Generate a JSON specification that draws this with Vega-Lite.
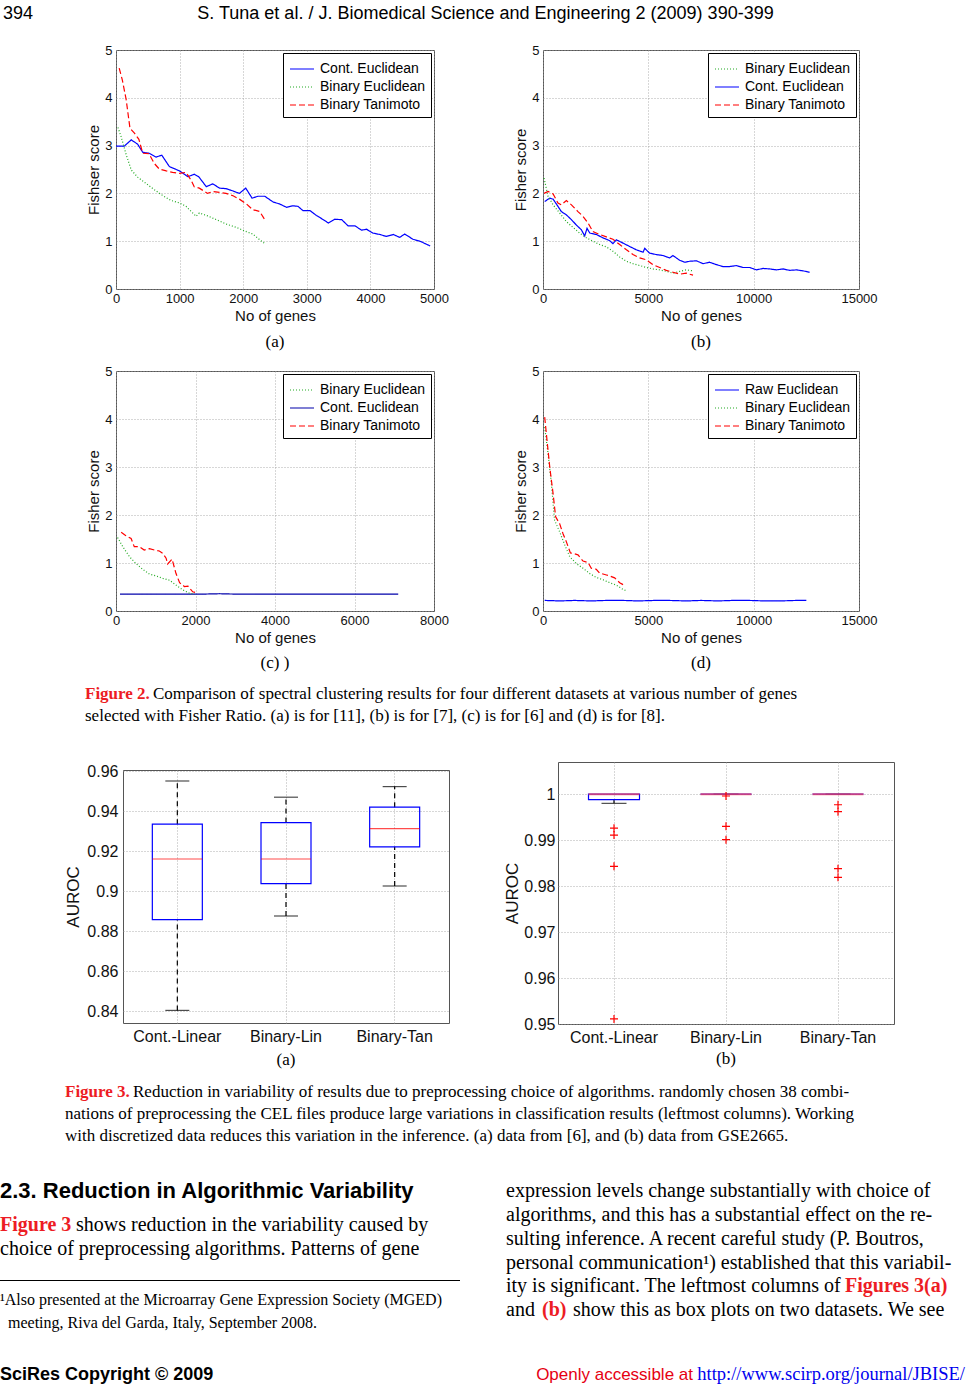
{
"$schema": "https://vega.github.io/schema/vega-lite/v6.json",
"padding": 0,
"background": "white",
"spacing": 0,
"bounds": "flush",
"resolve": {"scale": {"color": "independent", "strokeDash": "independent"}},
"data": {"values": []},
"config": {
  "view": {"stroke": null},
  "font": "Liberation Sans",
  "title": {"orient": "bottom", "anchor": "start", "frame": "group", "offset": 0, "font": "Liberation Serif", "fontSize": 17, "fontWeight": "normal", "color": "#000", "lineHeight": 22},
  "axis": {"grid": true, "gridColor": "#999", "gridDash": [1, 2], "gridWidth": 0.8, "ticks": false, "domain": false, "labelFont": "Liberation Sans", "labelFontSize": 13, "labelColor": "#111", "titleFont": "Liberation Sans", "titleFontSize": 15, "titleFontWeight": "normal", "titleColor": "#111", "labelFlush": false, "labelOverlap": false},
  "axisX": {"labelPadding": 3, "titlePadding": 3},
  "axisY": {"labelPadding": 4, "titlePadding": 3},
  "legend": {"orient": "top-right", "offset": 3, "padding": 5, "strokeColor": "#000", "fillColor": "#fff", "labelFont": "Liberation Sans", "labelFontSize": 14, "labelColor": "#000", "symbolType": "M-1.2,0H1.2", "symbolSize": 400, "symbolStrokeWidth": 1.2, "symbolOffset": 3, "rowPadding": 0, "labelOffset": 7}
},
"vconcat": [
  {"hconcat": [
    {"width": 3, "height": 1, "mark": "point"},
    {"width": 1, "height": 1, "mark": "point", "title": {"text": "394", "font": "Liberation Sans", "fontSize": 18}},
    {"width": 963, "height": 1, "mark": "point", "title": {"text": "S. Tuna et al. / J. Biomedical Science and Engineering 2 (2009) 390-399", "anchor": "middle", "font": "Liberation Sans", "fontSize": 18}}
  ], "spacing": 0, "bounds": "flush"},
  {"width": 1, "height": 50, "mark": "point"},
  {"hconcat": [
    {"width": 116, "height": 1, "mark": "point"},
    {"width": 318, "height": 239, "view": {"stroke": "#555"},
     "title": {"text": "(a)", "anchor": "middle", "offset": 11},
     "data": {"values": [
      {"series":"Cont. Euclidean","genes":0,"score":2.99},{"series":"Cont. Euclidean","genes":130,"score":2.99},{"series":"Cont. Euclidean","genes":240,"score":3.12},{"series":"Cont. Euclidean","genes":340,"score":3.03},{"series":"Cont. Euclidean","genes":420,"score":2.86},{"series":"Cont. Euclidean","genes":520,"score":2.84},{"series":"Cont. Euclidean","genes":630,"score":2.76},{"series":"Cont. Euclidean","genes":720,"score":2.8},{"series":"Cont. Euclidean","genes":840,"score":2.56},{"series":"Cont. Euclidean","genes":1000,"score":2.47},{"series":"Cont. Euclidean","genes":1130,"score":2.35},{"series":"Cont. Euclidean","genes":1230,"score":2.4},{"series":"Cont. Euclidean","genes":1300,"score":2.35},{"series":"Cont. Euclidean","genes":1420,"score":2.14},{"series":"Cont. Euclidean","genes":1520,"score":2.2},{"series":"Cont. Euclidean","genes":1630,"score":2.11},{"series":"Cont. Euclidean","genes":1730,"score":2.1},{"series":"Cont. Euclidean","genes":1840,"score":2.05},{"series":"Cont. Euclidean","genes":1940,"score":2.0},{"series":"Cont. Euclidean","genes":2040,"score":2.11},{"series":"Cont. Euclidean","genes":2140,"score":1.9},{"series":"Cont. Euclidean","genes":2230,"score":1.94},{"series":"Cont. Euclidean","genes":2340,"score":1.94},{"series":"Cont. Euclidean","genes":2470,"score":1.82},{"series":"Cont. Euclidean","genes":2570,"score":1.78},{"series":"Cont. Euclidean","genes":2680,"score":1.71},{"series":"Cont. Euclidean","genes":2780,"score":1.74},{"series":"Cont. Euclidean","genes":2860,"score":1.73},{"series":"Cont. Euclidean","genes":2940,"score":1.64},{"series":"Cont. Euclidean","genes":3050,"score":1.64},{"series":"Cont. Euclidean","genes":3150,"score":1.54},{"series":"Cont. Euclidean","genes":3260,"score":1.45},{"series":"Cont. Euclidean","genes":3340,"score":1.38},{"series":"Cont. Euclidean","genes":3440,"score":1.46},{"series":"Cont. Euclidean","genes":3550,"score":1.45},{"series":"Cont. Euclidean","genes":3650,"score":1.32},{"series":"Cont. Euclidean","genes":3760,"score":1.32},{"series":"Cont. Euclidean","genes":3860,"score":1.23},{"series":"Cont. Euclidean","genes":3940,"score":1.25},{"series":"Cont. Euclidean","genes":4040,"score":1.17},{"series":"Cont. Euclidean","genes":4150,"score":1.14},{"series":"Cont. Euclidean","genes":4250,"score":1.1},{"series":"Cont. Euclidean","genes":4360,"score":1.14},{"series":"Cont. Euclidean","genes":4460,"score":1.08},{"series":"Cont. Euclidean","genes":4540,"score":1.15},{"series":"Cont. Euclidean","genes":4670,"score":1.04},{"series":"Cont. Euclidean","genes":4780,"score":1.0},{"series":"Cont. Euclidean","genes":4940,"score":0.9},
      {"series":"Binary Euclidean","genes":30,"score":3.38},{"series":"Binary Euclidean","genes":80,"score":3.19},{"series":"Binary Euclidean","genes":160,"score":2.81},{"series":"Binary Euclidean","genes":240,"score":2.49},{"series":"Binary Euclidean","genes":340,"score":2.34},{"series":"Binary Euclidean","genes":470,"score":2.21},{"series":"Binary Euclidean","genes":600,"score":2.08},{"series":"Binary Euclidean","genes":740,"score":1.95},{"series":"Binary Euclidean","genes":870,"score":1.85},{"series":"Binary Euclidean","genes":1000,"score":1.8},{"series":"Binary Euclidean","genes":1100,"score":1.73},{"series":"Binary Euclidean","genes":1260,"score":1.52},{"series":"Binary Euclidean","genes":1310,"score":1.59},{"series":"Binary Euclidean","genes":1440,"score":1.53},{"series":"Binary Euclidean","genes":1580,"score":1.45},{"series":"Binary Euclidean","genes":1730,"score":1.36},{"series":"Binary Euclidean","genes":1890,"score":1.29},{"series":"Binary Euclidean","genes":2050,"score":1.2},{"series":"Binary Euclidean","genes":2150,"score":1.15},{"series":"Binary Euclidean","genes":2260,"score":1.03},{"series":"Binary Euclidean","genes":2340,"score":0.95},
      {"series":"Binary Tanimoto","genes":50,"score":4.62},{"series":"Binary Tanimoto","genes":100,"score":4.37},{"series":"Binary Tanimoto","genes":160,"score":3.96},{"series":"Binary Tanimoto","genes":220,"score":3.36},{"series":"Binary Tanimoto","genes":290,"score":3.26},{"series":"Binary Tanimoto","genes":360,"score":3.13},{"series":"Binary Tanimoto","genes":420,"score":2.84},{"series":"Binary Tanimoto","genes":520,"score":2.83},{"series":"Binary Tanimoto","genes":600,"score":2.63},{"series":"Binary Tanimoto","genes":680,"score":2.51},{"series":"Binary Tanimoto","genes":790,"score":2.47},{"series":"Binary Tanimoto","genes":890,"score":2.44},{"series":"Binary Tanimoto","genes":1000,"score":2.42},{"series":"Binary Tanimoto","genes":1100,"score":2.44},{"series":"Binary Tanimoto","genes":1180,"score":2.28},{"series":"Binary Tanimoto","genes":1230,"score":2.14},{"series":"Binary Tanimoto","genes":1310,"score":2.11},{"series":"Binary Tanimoto","genes":1440,"score":2.0},{"series":"Binary Tanimoto","genes":1520,"score":2.04},{"series":"Binary Tanimoto","genes":1630,"score":2.02},{"series":"Binary Tanimoto","genes":1730,"score":2.0},{"series":"Binary Tanimoto","genes":1840,"score":1.95},{"series":"Binary Tanimoto","genes":1940,"score":1.88},{"series":"Binary Tanimoto","genes":2050,"score":1.78},{"series":"Binary Tanimoto","genes":2150,"score":1.66},{"series":"Binary Tanimoto","genes":2260,"score":1.62},{"series":"Binary Tanimoto","genes":2340,"score":1.45}
     ]},
     "mark": {"type": "line", "strokeWidth": 1.2},
     "encoding": {
      "x": {"field": "genes", "type": "quantitative", "scale": {"domain": [0, 5000], "nice": false}, "axis": {"values": [0, 1000, 2000, 3000, 4000, 5000], "title": "No of genes", "format": "d"}},
      "y": {"field": "score", "type": "quantitative", "scale": {"domain": [0, 5], "nice": false}, "axis": {"values": [0, 1, 2, 3, 4, 5], "title": "Fishser score"}},
      "color": {"field": "series", "type": "nominal", "scale": {"domain": ["Cont. Euclidean", "Binary Euclidean", "Binary Tanimoto"], "range": ["#0000ff", "#22aa22", "#ff0000"]}, "legend": {"title": null}},
      "strokeDash": {"field": "series", "type": "nominal", "scale": {"domain": ["Cont. Euclidean", "Binary Euclidean", "Binary Tanimoto"], "range": [[1, 0], [1, 2], [6, 3]]}, "legend": {"title": null}}
     }},
    {"width": 109, "height": 1, "mark": "point"},
    {"width": 316, "height": 239, "view": {"stroke": "#555"},
     "title": {"text": "(b)", "anchor": "middle", "offset": 11},
     "data": {"values": [
      {"series":"Cont. Euclidean","genes":80,"score":1.83},{"series":"Cont. Euclidean","genes":320,"score":1.9},{"series":"Cont. Euclidean","genes":480,"score":1.88},{"series":"Cont. Euclidean","genes":710,"score":1.73},{"series":"Cont. Euclidean","genes":870,"score":1.62},{"series":"Cont. Euclidean","genes":1110,"score":1.55},{"series":"Cont. Euclidean","genes":1350,"score":1.45},{"series":"Cont. Euclidean","genes":1580,"score":1.34},{"series":"Cont. Euclidean","genes":1820,"score":1.24},{"series":"Cont. Euclidean","genes":1980,"score":1.11},{"series":"Cont. Euclidean","genes":2090,"score":1.27},{"series":"Cont. Euclidean","genes":2220,"score":1.17},{"series":"Cont. Euclidean","genes":2530,"score":1.14},{"series":"Cont. Euclidean","genes":2850,"score":1.07},{"series":"Cont. Euclidean","genes":3170,"score":1.01},{"series":"Cont. Euclidean","genes":3320,"score":0.95},{"series":"Cont. Euclidean","genes":3480,"score":1.03},{"series":"Cont. Euclidean","genes":3800,"score":0.96},{"series":"Cont. Euclidean","genes":4110,"score":0.89},{"series":"Cont. Euclidean","genes":4430,"score":0.82},{"series":"Cont. Euclidean","genes":4750,"score":0.77},{"series":"Cont. Euclidean","genes":4830,"score":0.85},{"series":"Cont. Euclidean","genes":5060,"score":0.75},{"series":"Cont. Euclidean","genes":5380,"score":0.72},{"series":"Cont. Euclidean","genes":5700,"score":0.7},{"series":"Cont. Euclidean","genes":6010,"score":0.65},{"series":"Cont. Euclidean","genes":6170,"score":0.7},{"series":"Cont. Euclidean","genes":6490,"score":0.6},{"series":"Cont. Euclidean","genes":6730,"score":0.56},{"series":"Cont. Euclidean","genes":6960,"score":0.58},{"series":"Cont. Euclidean","genes":7280,"score":0.59},{"series":"Cont. Euclidean","genes":7600,"score":0.53},{"series":"Cont. Euclidean","genes":7910,"score":0.56},{"series":"Cont. Euclidean","genes":8230,"score":0.51},{"series":"Cont. Euclidean","genes":8540,"score":0.47},{"series":"Cont. Euclidean","genes":8860,"score":0.47},{"series":"Cont. Euclidean","genes":9180,"score":0.49},{"series":"Cont. Euclidean","genes":9490,"score":0.45},{"series":"Cont. Euclidean","genes":9810,"score":0.45},{"series":"Cont. Euclidean","genes":10130,"score":0.4},{"series":"Cont. Euclidean","genes":10440,"score":0.43},{"series":"Cont. Euclidean","genes":10760,"score":0.42},{"series":"Cont. Euclidean","genes":11080,"score":0.4},{"series":"Cont. Euclidean","genes":11390,"score":0.42},{"series":"Cont. Euclidean","genes":11710,"score":0.39},{"series":"Cont. Euclidean","genes":12030,"score":0.4},{"series":"Cont. Euclidean","genes":12340,"score":0.38},{"series":"Cont. Euclidean","genes":12660,"score":0.35},
      {"series":"Binary Euclidean","genes":50,"score":2.32},{"series":"Binary Euclidean","genes":240,"score":1.94},{"series":"Binary Euclidean","genes":480,"score":1.76},{"series":"Binary Euclidean","genes":790,"score":1.59},{"series":"Binary Euclidean","genes":1110,"score":1.41},{"series":"Binary Euclidean","genes":1420,"score":1.29},{"series":"Binary Euclidean","genes":1740,"score":1.17},{"series":"Binary Euclidean","genes":2060,"score":1.07},{"series":"Binary Euclidean","genes":2370,"score":1.0},{"series":"Binary Euclidean","genes":2690,"score":0.93},{"series":"Binary Euclidean","genes":3010,"score":0.88},{"series":"Binary Euclidean","genes":3320,"score":0.79},{"series":"Binary Euclidean","genes":3640,"score":0.67},{"series":"Binary Euclidean","genes":3960,"score":0.58},{"series":"Binary Euclidean","genes":4270,"score":0.53},{"series":"Binary Euclidean","genes":4590,"score":0.49},{"series":"Binary Euclidean","genes":4910,"score":0.45},{"series":"Binary Euclidean","genes":5220,"score":0.42},{"series":"Binary Euclidean","genes":5540,"score":0.4},{"series":"Binary Euclidean","genes":5850,"score":0.37},{"series":"Binary Euclidean","genes":6170,"score":0.33},{"series":"Binary Euclidean","genes":6490,"score":0.37},{"series":"Binary Euclidean","genes":6800,"score":0.4},{"series":"Binary Euclidean","genes":7120,"score":0.38},
      {"series":"Binary Tanimoto","genes":50,"score":2.0},{"series":"Binary Tanimoto","genes":240,"score":2.04},{"series":"Binary Tanimoto","genes":480,"score":1.99},{"series":"Binary Tanimoto","genes":710,"score":1.8},{"series":"Binary Tanimoto","genes":870,"score":1.76},{"series":"Binary Tanimoto","genes":1110,"score":1.85},{"series":"Binary Tanimoto","genes":1350,"score":1.76},{"series":"Binary Tanimoto","genes":1660,"score":1.62},{"series":"Binary Tanimoto","genes":1900,"score":1.52},{"series":"Binary Tanimoto","genes":2140,"score":1.38},{"series":"Binary Tanimoto","genes":2370,"score":1.2},{"series":"Binary Tanimoto","genes":2690,"score":1.14},{"series":"Binary Tanimoto","genes":3010,"score":1.09},{"series":"Binary Tanimoto","genes":3320,"score":1.04},{"series":"Binary Tanimoto","genes":3640,"score":0.93},{"series":"Binary Tanimoto","genes":3960,"score":0.82},{"series":"Binary Tanimoto","genes":4270,"score":0.72},{"series":"Binary Tanimoto","genes":4590,"score":0.65},{"series":"Binary Tanimoto","genes":4910,"score":0.61},{"series":"Binary Tanimoto","genes":5220,"score":0.51},{"series":"Binary Tanimoto","genes":5540,"score":0.45},{"series":"Binary Tanimoto","genes":5850,"score":0.39},{"series":"Binary Tanimoto","genes":6170,"score":0.35},{"series":"Binary Tanimoto","genes":6490,"score":0.31},{"series":"Binary Tanimoto","genes":6800,"score":0.33},{"series":"Binary Tanimoto","genes":7120,"score":0.29}
     ]},
     "mark": {"type": "line", "strokeWidth": 1.2},
     "encoding": {
      "x": {"field": "genes", "type": "quantitative", "scale": {"domain": [0, 15000], "nice": false}, "axis": {"values": [0, 5000, 10000, 15000], "title": "No of genes", "format": "d"}},
      "y": {"field": "score", "type": "quantitative", "scale": {"domain": [0, 5], "nice": false}, "axis": {"values": [0, 1, 2, 3, 4, 5], "title": "Fisher score"}},
      "color": {"field": "series", "type": "nominal", "scale": {"domain": ["Binary Euclidean", "Cont. Euclidean", "Binary Tanimoto"], "range": ["#22aa22", "#0000ff", "#ff0000"]}, "legend": {"title": null}},
      "strokeDash": {"field": "series", "type": "nominal", "scale": {"domain": ["Binary Euclidean", "Cont. Euclidean", "Binary Tanimoto"], "range": [[1, 2], [1, 0], [6, 3]]}, "legend": {"title": null}}
     }}
  ], "spacing": 0, "bounds": "flush", "resolve": {"scale": {"color": "independent", "strokeDash": "independent"}}},
  {"width": 1, "height": 321, "mark": "point"},
  {"hconcat": [
    {"width": 116, "height": 1, "mark": "point"},
    {"width": 318, "height": 240, "view": {"stroke": "#555"},
     "title": {"text": "(c) )", "anchor": "middle", "offset": 10},
     "data": {"values": [
      {"series":"Cont. Euclidean","genes":100,"score":0.35},{"series":"Cont. Euclidean","genes":600,"score":0.35},{"series":"Cont. Euclidean","genes":1100,"score":0.35},{"series":"Cont. Euclidean","genes":1600,"score":0.35},{"series":"Cont. Euclidean","genes":2100,"score":0.35},{"series":"Cont. Euclidean","genes":2600,"score":0.36},{"series":"Cont. Euclidean","genes":3100,"score":0.35},{"series":"Cont. Euclidean","genes":3600,"score":0.35},{"series":"Cont. Euclidean","genes":4100,"score":0.35},{"series":"Cont. Euclidean","genes":4600,"score":0.35},{"series":"Cont. Euclidean","genes":5100,"score":0.35},{"series":"Cont. Euclidean","genes":5600,"score":0.35},{"series":"Cont. Euclidean","genes":6100,"score":0.35},{"series":"Cont. Euclidean","genes":6600,"score":0.35},{"series":"Cont. Euclidean","genes":7100,"score":0.35},
      {"series":"Binary Euclidean","genes":40,"score":1.53},{"series":"Binary Euclidean","genes":170,"score":1.34},{"series":"Binary Euclidean","genes":340,"score":1.13},{"series":"Binary Euclidean","genes":500,"score":0.99},{"series":"Binary Euclidean","genes":670,"score":0.87},{"series":"Binary Euclidean","genes":840,"score":0.77},{"series":"Binary Euclidean","genes":1010,"score":0.73},{"series":"Binary Euclidean","genes":1180,"score":0.68},{"series":"Binary Euclidean","genes":1350,"score":0.64},{"series":"Binary Euclidean","genes":1510,"score":0.54},{"series":"Binary Euclidean","genes":1680,"score":0.44},{"series":"Binary Euclidean","genes":1850,"score":0.37},{"series":"Binary Euclidean","genes":1980,"score":0.35},
      {"series":"Binary Tanimoto","genes":130,"score":1.64},{"series":"Binary Tanimoto","genes":250,"score":1.57},{"series":"Binary Tanimoto","genes":380,"score":1.51},{"series":"Binary Tanimoto","genes":460,"score":1.34},{"series":"Binary Tanimoto","genes":590,"score":1.34},{"series":"Binary Tanimoto","genes":710,"score":1.27},{"series":"Binary Tanimoto","genes":840,"score":1.3},{"series":"Binary Tanimoto","genes":970,"score":1.27},{"series":"Binary Tanimoto","genes":1090,"score":1.25},{"series":"Binary Tanimoto","genes":1180,"score":1.2},{"series":"Binary Tanimoto","genes":1260,"score":1.1},{"series":"Binary Tanimoto","genes":1300,"score":0.98},{"series":"Binary Tanimoto","genes":1410,"score":1.08},{"series":"Binary Tanimoto","genes":1510,"score":0.78},{"series":"Binary Tanimoto","genes":1600,"score":0.59},{"series":"Binary Tanimoto","genes":1720,"score":0.51},{"series":"Binary Tanimoto","genes":1810,"score":0.52},{"series":"Binary Tanimoto","genes":1930,"score":0.4},{"series":"Binary Tanimoto","genes":2060,"score":0.37}
     ]},
     "mark": {"type": "line", "strokeWidth": 1.2},
     "encoding": {
      "x": {"field": "genes", "type": "quantitative", "scale": {"domain": [0, 8000], "nice": false}, "axis": {"values": [0, 2000, 4000, 6000, 8000], "title": "No of genes", "format": "d"}},
      "y": {"field": "score", "type": "quantitative", "scale": {"domain": [0, 5], "nice": false}, "axis": {"values": [0, 1, 2, 3, 4, 5], "title": "Fisher score"}},
      "color": {"field": "series", "type": "nominal", "scale": {"domain": ["Binary Euclidean", "Cont. Euclidean", "Binary Tanimoto"], "range": ["#22aa22", "#0000aa", "#ff0000"]}, "legend": {"title": null}},
      "strokeDash": {"field": "series", "type": "nominal", "scale": {"domain": ["Binary Euclidean", "Cont. Euclidean", "Binary Tanimoto"], "range": [[1, 2], [1, 0], [6, 3]]}, "legend": {"title": null}}
     }},
    {"width": 109, "height": 1, "mark": "point"},
    {"width": 316, "height": 240, "view": {"stroke": "#555"},
     "title": {"text": "(d)", "anchor": "middle", "offset": 10},
     "data": {"values": [
      {"series":"Raw Euclidean","genes":80,"score":0.22},{"series":"Raw Euclidean","genes":800,"score":0.21},{"series":"Raw Euclidean","genes":1500,"score":0.22},{"series":"Raw Euclidean","genes":2300,"score":0.21},{"series":"Raw Euclidean","genes":3000,"score":0.22},{"series":"Raw Euclidean","genes":3800,"score":0.22},{"series":"Raw Euclidean","genes":4500,"score":0.21},{"series":"Raw Euclidean","genes":5300,"score":0.22},{"series":"Raw Euclidean","genes":6000,"score":0.22},{"series":"Raw Euclidean","genes":6800,"score":0.21},{"series":"Raw Euclidean","genes":7500,"score":0.22},{"series":"Raw Euclidean","genes":8300,"score":0.21},{"series":"Raw Euclidean","genes":9000,"score":0.22},{"series":"Raw Euclidean","genes":9800,"score":0.22},{"series":"Raw Euclidean","genes":10500,"score":0.21},{"series":"Raw Euclidean","genes":11300,"score":0.21},{"series":"Raw Euclidean","genes":12000,"score":0.22},{"series":"Raw Euclidean","genes":12500,"score":0.22},
      {"series":"Binary Euclidean","genes":80,"score":3.83},{"series":"Binary Euclidean","genes":240,"score":3.28},{"series":"Binary Euclidean","genes":400,"score":2.65},{"series":"Binary Euclidean","genes":550,"score":1.89},{"series":"Binary Euclidean","genes":790,"score":1.65},{"series":"Binary Euclidean","genes":1030,"score":1.38},{"series":"Binary Euclidean","genes":1270,"score":1.13},{"series":"Binary Euclidean","genes":1580,"score":0.99},{"series":"Binary Euclidean","genes":1900,"score":0.89},{"series":"Binary Euclidean","genes":2220,"score":0.78},{"series":"Binary Euclidean","genes":2530,"score":0.7},{"series":"Binary Euclidean","genes":2850,"score":0.65},{"series":"Binary Euclidean","genes":3170,"score":0.59},{"series":"Binary Euclidean","genes":3480,"score":0.54},{"series":"Binary Euclidean","genes":3800,"score":0.45},{"series":"Binary Euclidean","genes":3960,"score":0.42},
      {"series":"Binary Tanimoto","genes":80,"score":4.04},{"series":"Binary Tanimoto","genes":160,"score":3.69},{"series":"Binary Tanimoto","genes":320,"score":3.0},{"series":"Binary Tanimoto","genes":480,"score":2.44},{"series":"Binary Tanimoto","genes":600,"score":1.96},{"series":"Binary Tanimoto","genes":790,"score":1.82},{"series":"Binary Tanimoto","genes":950,"score":1.61},{"series":"Binary Tanimoto","genes":1110,"score":1.44},{"series":"Binary Tanimoto","genes":1300,"score":1.21},{"series":"Binary Tanimoto","genes":1500,"score":1.19},{"series":"Binary Tanimoto","genes":1660,"score":1.17},{"series":"Binary Tanimoto","genes":1900,"score":1.04},{"series":"Binary Tanimoto","genes":2140,"score":1.01},{"series":"Binary Tanimoto","genes":2290,"score":0.89},{"series":"Binary Tanimoto","genes":2530,"score":0.87},{"series":"Binary Tanimoto","genes":2690,"score":0.79},{"series":"Binary Tanimoto","genes":3010,"score":0.75},{"series":"Binary Tanimoto","genes":3170,"score":0.73},{"series":"Binary Tanimoto","genes":3400,"score":0.69},{"series":"Binary Tanimoto","genes":3640,"score":0.59},{"series":"Binary Tanimoto","genes":3880,"score":0.53}
     ]},
     "mark": {"type": "line", "strokeWidth": 1.2},
     "encoding": {
      "x": {"field": "genes", "type": "quantitative", "scale": {"domain": [0, 15000], "nice": false}, "axis": {"values": [0, 5000, 10000, 15000], "title": "No of genes", "format": "d"}},
      "y": {"field": "score", "type": "quantitative", "scale": {"domain": [0, 5], "nice": false}, "axis": {"values": [0, 1, 2, 3, 4, 5], "title": "Fisher score"}},
      "color": {"field": "series", "type": "nominal", "scale": {"domain": ["Raw Euclidean", "Binary Euclidean", "Binary Tanimoto"], "range": ["#0000ff", "#22aa22", "#ff0000"]}, "legend": {"title": null}},
      "strokeDash": {"field": "series", "type": "nominal", "scale": {"domain": ["Raw Euclidean", "Binary Euclidean", "Binary Tanimoto"], "range": [[1, 0], [1, 2], [6, 3]]}, "legend": {"title": null}}
     }}
  ], "spacing": 0, "bounds": "flush", "resolve": {"scale": {"color": "independent", "strokeDash": "independent"}}},
  {"width": 1, "height": 310, "mark": "point"},
  {"hconcat": [
    {"width": 85, "height": 1, "mark": "point"},
    {"width": 68, "height": 1, "mark": "point", "title": {"text": "Figure 2.", "color": "#ed1c24", "fontWeight": "bold"}},
    {"width": 727, "height": 1, "mark": "point", "title": {"text": "Comparison of spectral clustering results for four different datasets at various number of genes"}}
  ], "spacing": 0, "bounds": "flush"},
  {"width": 1, "height": 22, "mark": "point"},
  {"hconcat": [
    {"width": 85, "height": 1, "mark": "point"},
    {"width": 795, "height": 1, "mark": "point", "title": {"text": "selected with Fisher Ratio. (a) is for [11], (b) is for [7], (c) is for [6] and (d) is for [8]."}}
  ], "spacing": 0, "bounds": "flush"},
  {"width": 1, "height": 59, "mark": "point"},
  {"hconcat": [
    {"width": 123, "height": 1, "mark": "point"},
    {"vconcat": [
      {"width": 326, "height": 8, "mark": "point"},
      {"width": 326, "height": 253, "view": {"stroke": "#555"},
       "title": {"text": "(a)", "anchor": "middle", "offset": 8},
       "data": {"values": [
        {"method": "Cont.-Linear", "min": 0.8403, "q1": 0.8857, "median": 0.916, "q3": 0.9334, "max": 0.955},
        {"method": "Binary-Lin", "min": 0.8875, "q1": 0.9037, "median": 0.916, "q3": 0.9342, "max": 0.9469},
        {"method": "Binary-Tan", "min": 0.9025, "q1": 0.9221, "median": 0.9312, "q3": 0.9419, "max": 0.9522}
       ]},
       "encoding": {"x": {"field": "method", "type": "nominal", "scale": {"domain": ["Cont.-Linear", "Binary-Lin", "Binary-Tan"], "paddingInner": 0, "paddingOuter": 0}, "axis": {"title": null, "labelAngle": 0, "grid": true, "bandPosition": 0.5, "labelFontSize": 16, "labelPadding": 5}}},
       "layer": [
        {"mark": {"type": "rule", "strokeDash": [5, 4], "color": "#000", "strokeWidth": 1.2}, "encoding": {"y": {"field": "min", "type": "quantitative", "title": "AUROC", "scale": {"domain": [0.834, 0.9605], "nice": false, "zero": false}, "axis": {"values": [0.84, 0.86, 0.88, 0.9, 0.92, 0.94, 0.96], "format": ".2~f", "labelFontSize": 16, "labelPadding": 5, "titleFontSize": 17, "titlePadding": 4}}, "y2": {"field": "q1"}}},
        {"mark": {"type": "rule", "strokeDash": [5, 4], "color": "#000", "strokeWidth": 1.2}, "encoding": {"y": {"field": "q3", "type": "quantitative", "title": "AUROC"}, "y2": {"field": "max"}}},
        {"mark": {"type": "tick", "color": "#000", "size": 24, "thickness": 1.2}, "encoding": {"y": {"field": "min", "type": "quantitative", "title": "AUROC"}}},
        {"mark": {"type": "tick", "color": "#000", "size": 24, "thickness": 1.2}, "encoding": {"y": {"field": "max", "type": "quantitative", "title": "AUROC"}}},
        {"mark": {"type": "bar", "width": 50, "fillOpacity": 0, "stroke": "#0000ff", "strokeWidth": 1.2}, "encoding": {"y": {"field": "q1", "type": "quantitative", "title": "AUROC"}, "y2": {"field": "q3"}}},
        {"mark": {"type": "tick", "color": "#ff0000", "size": 50, "thickness": 1.2}, "encoding": {"y": {"field": "median", "type": "quantitative", "title": "AUROC"}}}
       ]}
    ], "spacing": 0, "bounds": "flush"},
    {"width": 435, "height": 1, "mark": "point"},
    {"width": 336, "height": 262, "view": {"stroke": "#555"},
     "title": {"text": "(b)", "anchor": "middle", "offset": 6},
     "data": {"values": [
      {"method": "Cont.-Linear", "min": 0.998, "q1": 0.9988, "median": 1, "q3": 1, "max": 1},
      {"method": "Binary-Lin", "min": 1, "q1": 1, "median": 1, "q3": 1, "max": 1},
      {"method": "Binary-Tan", "min": 1, "q1": 1, "median": 1, "q3": 1, "max": 1}
     ]},
     "encoding": {"x": {"field": "method", "type": "nominal", "scale": {"domain": ["Cont.-Linear", "Binary-Lin", "Binary-Tan"], "paddingInner": 0, "paddingOuter": 0}, "axis": {"title": null, "labelAngle": 0, "grid": true, "bandPosition": 0.5, "labelFontSize": 16, "labelPadding": 5}}},
     "layer": [
      {"mark": {"type": "rule", "strokeDash": [5, 4], "color": "#000", "strokeWidth": 1.2}, "encoding": {"y": {"field": "min", "type": "quantitative", "title": "AUROC", "scale": {"domain": [0.95, 1.007], "nice": false, "zero": false}, "axis": {"values": [0.95, 0.96, 0.97, 0.98, 0.99, 1], "format": ".2~f", "labelFontSize": 16, "labelPadding": 3, "titleFontSize": 17, "titlePadding": 2}}, "y2": {"field": "q1"}}},
      {"mark": {"type": "tick", "color": "#000", "size": 25, "thickness": 1.2}, "encoding": {"y": {"field": "min", "type": "quantitative", "title": "AUROC"}}},
      {"mark": {"type": "bar", "width": 51, "fillOpacity": 0, "stroke": "#0000ff", "strokeWidth": 1.2}, "encoding": {"y": {"field": "q1", "type": "quantitative", "title": "AUROC"}, "y2": {"field": "q3"}}},
      {"mark": {"type": "tick", "color": "#ff4455", "size": 51, "thickness": 2}, "encoding": {"y": {"field": "median", "type": "quantitative", "title": "AUROC"}}},
      {"data": {"values": [
        {"method": "Cont.-Linear", "value": 0.9926}, {"method": "Cont.-Linear", "value": 0.9911}, {"method": "Cont.-Linear", "value": 0.9843}, {"method": "Cont.-Linear", "value": 0.9511},
        {"method": "Binary-Lin", "value": 0.9996}, {"method": "Binary-Lin", "value": 0.993}, {"method": "Binary-Lin", "value": 0.9901},
        {"method": "Binary-Tan", "value": 0.9977}, {"method": "Binary-Tan", "value": 0.9962}, {"method": "Binary-Tan", "value": 0.9838}, {"method": "Binary-Tan", "value": 0.9819}
       ]},
       "mark": {"type": "point", "shape": "M-1,0H1M0,-1V1", "size": 64, "filled": false, "color": "#ff0000", "strokeWidth": 1.2, "opacity": 1},
       "encoding": {"y": {"field": "value", "type": "quantitative", "title": "AUROC"}}}
     ]}
  ], "spacing": 0, "bounds": "flush"},
  {"width": 1, "height": 317, "mark": "point"},
  {"hconcat": [
    {"width": 65, "height": 1, "mark": "point"},
    {"width": 68, "height": 1, "mark": "point", "title": {"text": "Figure 3.", "color": "#ed1c24", "fontWeight": "bold"}},
    {"width": 772, "height": 1, "mark": "point", "title": {"text": "Reduction in variability of results due to preprocessing choice of algorithms. randomly chosen 38 combi-"}}
  ], "spacing": 0, "bounds": "flush"},
  {"width": 1, "height": 22, "mark": "point"},
  {"hconcat": [
    {"width": 65, "height": 1, "mark": "point"},
    {"width": 840, "height": 1, "mark": "point", "title": {"text": ["nations of preprocessing the CEL files produce large variations in classification results (leftmost columns). Working", "with discretized data reduces this variation in the inference. (a) data from [6], and (b) data from GSE2665."]}}
  ], "spacing": 0, "bounds": "flush"},
  {"width": 1, "height": 69, "mark": "point"},
  {"hconcat": [
    {"width": 460, "height": 7, "mark": "point", "title": {"text": "2.3. Reduction in Algorithmic Variability", "font": "Liberation Sans", "fontWeight": "bold", "fontSize": 22}},
    {"width": 46, "height": 1, "mark": "point"},
    {"width": 460, "height": 7, "mark": "point", "title": {"text": ["expression levels change substantially with choice of", "algorithms, and this has a substantial effect on the re-", "sulting inference. A recent careful study (P. Boutros,", "personal communication¹) established that this variabil-"], "fontSize": 20, "lineHeight": 24}}
  ], "spacing": 0, "bounds": "flush"},
  {"width": 1, "height": 30, "mark": "point"},
  {"hconcat": [
    {"width": 76, "height": 11, "mark": "point", "title": {"text": "Figure 3", "color": "#ed1c24", "fontWeight": "bold", "fontSize": 20}},
    {"width": 384, "height": 11, "mark": "point", "title": {"text": "shows reduction in the variability caused by", "fontSize": 20}}
  ], "spacing": 0, "bounds": "flush"},
  {"width": 1, "height": 24, "mark": "point"},
  {"hconcat": [
    {"width": 460, "height": 11, "mark": "point", "title": {"text": "choice of preprocessing algorithms. Patterns of gene", "fontSize": 20}}
  ], "spacing": 0, "bounds": "flush"},
  {"width": 1, "height": 40, "mark": "point"},
  {"hconcat": [
    {"width": 506, "height": 1, "mark": "point"},
    {"width": 339, "height": 8, "mark": "point", "title": {"text": "ity is significant. The leftmost columns of", "fontSize": 20}},
    {"width": 121, "height": 8, "mark": "point", "title": {"text": "Figures 3(a)", "color": "#ed1c24", "fontWeight": "bold", "fontSize": 20}}
  ], "spacing": 0, "bounds": "flush"},
  {"width": 1, "height": 16, "mark": "point"},
  {"hconcat": [
    {"width": 460, "height": 1, "mark": "point", "view": {"fill": "#000", "stroke": null}}
  ], "spacing": 0, "bounds": "flush"},
  {"width": 1, "height": 7, "mark": "point"},
  {"hconcat": [
    {"width": 460, "height": 1, "mark": "point", "title": {"text": "¹Also presented at the Microarray Gene Expression Society (MGED)", "fontSize": 16}},
    {"width": 46, "height": 1, "mark": "point"},
    {"width": 36, "height": 9, "mark": "point", "title": {"text": "and", "fontSize": 20}},
    {"width": 31, "height": 9, "mark": "point", "title": {"text": "(b)", "color": "#ed1c24", "fontWeight": "bold", "fontSize": 20}},
    {"width": 393, "height": 9, "mark": "point", "title": {"text": "show this as box plots on two datasets. We see", "fontSize": 20}}
  ], "spacing": 0, "bounds": "flush"},
  {"width": 1, "height": 23, "mark": "point"},
  {"hconcat": [
    {"width": 8, "height": 1, "mark": "point"},
    {"width": 452, "height": 1, "mark": "point", "title": {"text": "meeting, Riva del Garda, Italy, September 2008.", "fontSize": 16}}
  ], "spacing": 0, "bounds": "flush"},
  {"width": 1, "height": 40, "mark": "point"},
  {"hconcat": [
    {"width": 460, "height": 12, "mark": "point", "title": {"text": "SciRes Copyright © 2009", "font": "Liberation Sans", "fontWeight": "bold", "fontSize": 18}},
    {"width": 46, "height": 1, "mark": "point"},
    {"width": 187, "height": 13, "mark": "point", "title": {"text": "Openly accessible at", "anchor": "end", "font": "Liberation Sans", "fontSize": 17, "color": "#e60012"}},
    {"width": 272, "height": 11, "mark": "point", "title": {"text": "http://www.scirp.org/journal/JBISE/", "anchor": "end", "fontSize": 18.5, "color": "#0000ee"}}
  ], "spacing": 0, "bounds": "flush"}
]
}
